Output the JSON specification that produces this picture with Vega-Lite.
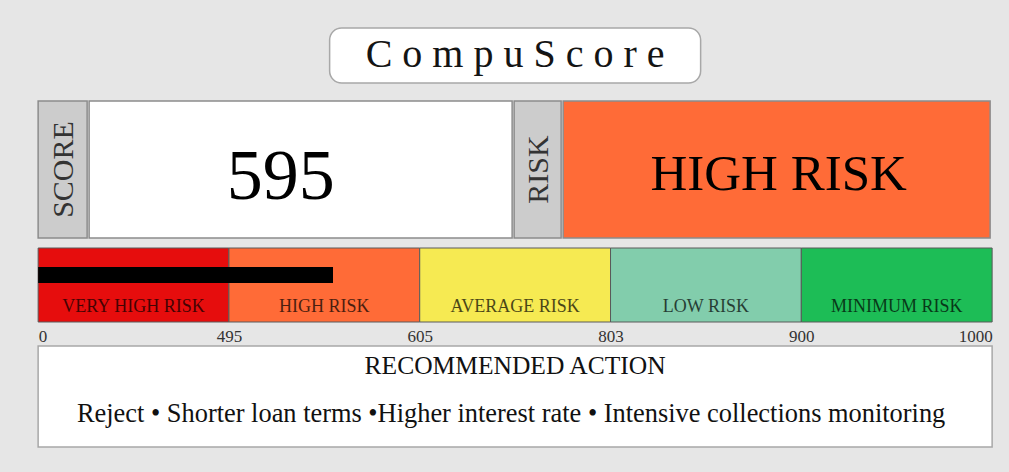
{
  "$schema": "https://vega.github.io/schema/vega-lite/v6.json",
  "background": "#e6e6e6",
  "padding": {"left": 37, "top": 27, "right": 18, "bottom": 24},
  "config": {
    "view": {"stroke": null},
    "font": "Liberation Serif",
    "text": {"font": "Liberation Serif"},
    "axis": {"labelFont": "Liberation Serif"}
  },
  "datasets": {
    "card": [
      {
        "product": "C o m p u S c o r e",
        "score": 595,
        "risk": "HIGH RISK",
        "heading": "RECOMMENDED ACTION",
        "action": "Reject • Shorter loan terms •Higher interest rate • Intensive collections monitoring",
        "marker": 555
      }
    ],
    "bands": [
      {"band": "VERY HIGH RISK", "lo": 0, "hi": 495},
      {"band": "HIGH RISK", "lo": 495, "hi": 605},
      {"band": "AVERAGE RISK", "lo": 605, "hi": 803},
      {"band": "LOW RISK", "lo": 803, "hi": 900},
      {"band": "MINIMUM RISK", "lo": 900, "hi": 1000}
    ]
  },
  "spacing": 16,
  "center": true,
  "vconcat": [
    {
      "width": 371,
      "height": 55,
      "view": {"fill": "#ffffff", "stroke": "#a8a8a8", "strokeWidth": 1.5, "cornerRadius": 12},
      "data": {"name": "card"},
      "mark": {"type": "text", "fontSize": 40, "color": "#141414", "dy": -1},
      "encoding": {"text": {"field": "product", "type": "nominal"}}
    },
    {
      "spacing": 8,
      "vconcat": [
        {
          "spacing": 0,
          "hconcat": [
            {
              "width": 49,
              "height": 137,
              "view": {"fill": "#cccccc", "stroke": "#8c8c8c", "strokeWidth": 1.5},
              "data": {"name": "card"},
              "mark": {"type": "text", "angle": 270, "fontSize": 30, "color": "#333333", "dy": 1},
              "encoding": {"text": {"value": "SCORE"}}
            },
            {
              "width": 423,
              "height": 137,
              "view": {"fill": "#ffffff", "stroke": "#8c8c8c", "strokeWidth": 1.5},
              "data": {"name": "card"},
              "mark": {"type": "text", "fontSize": 72, "color": "#000000", "dx": -20, "dy": 7},
              "encoding": {"text": {"field": "score", "type": "quantitative", "format": "d"}}
            },
            {
              "width": 47,
              "height": 137,
              "view": {"fill": "#cccccc", "stroke": "#8c8c8c", "strokeWidth": 1.5},
              "data": {"name": "card"},
              "mark": {"type": "text", "angle": 270, "fontSize": 30, "color": "#333333", "dy": 1},
              "encoding": {"text": {"value": "RISK"}}
            },
            {
              "width": 427,
              "height": 137,
              "view": {"fill": "#ff6b37", "stroke": "#8c8c8c", "strokeWidth": 1.5},
              "data": {"name": "card"},
              "mark": {"type": "text", "fontSize": 51, "color": "#000000", "dx": 2, "dy": 5},
              "encoding": {"text": {"field": "risk", "type": "nominal"}}
            }
          ]
        },
        {
          "spacing": 1,
          "vconcat": [
            {
              "width": 954,
              "height": 74,
              "resolve": {"scale": {"x": "independent"}},
              "layer": [
                {
                  "data": {"name": "bands"},
                  "mark": {"type": "rect", "stroke": "#5a5a5a", "strokeWidth": 1},
                  "encoding": {
                    "x": {
                      "field": "lo",
                      "type": "quantitative",
                      "scale": {"type": "linear", "domain": [0, 495, 605, 803, 900, 1000], "range": [0, 190.8, 381.6, 572.4, 763.2, 954], "zero": false, "nice": false},
                      "axis": {"values": [0, 495, 605, 803, 900, 1000], "format": "d", "labelFlush": true, "labelOverlap": false, "ticks": false, "domain": false, "grid": false, "title": null, "labelFontSize": 17, "labelColor": "#333333", "labelPadding": 6}
                    },
                    "x2": {"field": "hi"},
                    "color": {
                      "field": "band",
                      "type": "nominal",
                      "scale": {
                        "domain": ["VERY HIGH RISK", "HIGH RISK", "AVERAGE RISK", "LOW RISK", "MINIMUM RISK"],
                        "range": ["#e60d0d", "#ff6b37", "#f6ea52", "#82cdac", "#1dbd56"]
                      },
                      "legend": null
                    }
                  }
                },
                {
                  "data": {"name": "card"},
                  "mark": {"type": "bar", "color": "#000000", "height": 16, "yOffset": -10},
                  "encoding": {
                    "x": {
                      "field": "marker",
                      "type": "quantitative",
                      "scale": {"type": "linear", "domain": [0, 495, 605, 803, 900, 1000], "range": [0, 190.8, 381.6, 572.4, 763.2, 954], "zero": false, "nice": false},
                      "axis": null
                    }
                  }
                },
                {
                  "data": {"name": "bands"},
                  "mark": {"type": "text", "fontSize": 18, "color": "#000000", "opacity": 0.7, "baseline": "alphabetic", "dy": 27},
                  "encoding": {
                    "x": {"field": "band", "type": "nominal", "sort": null, "scale": {"type": "point", "padding": 0.5}, "axis": null},
                    "text": {"field": "band", "type": "nominal"}
                  }
                }
              ]
            },
            {
              "width": 954,
              "height": 101,
              "view": {"fill": "#ffffff", "stroke": "#a8a8a8", "strokeWidth": 1.5},
              "data": {"name": "card"},
              "layer": [
                {
                  "mark": {"type": "text", "fontSize": 25.5, "color": "#111111", "baseline": "alphabetic", "dy": -22.5},
                  "encoding": {"text": {"field": "heading", "type": "nominal"}}
                },
                {
                  "mark": {"type": "text", "fontSize": 26.4, "color": "#111111", "baseline": "alphabetic", "dx": -4, "dy": 25},
                  "encoding": {"text": {"field": "action", "type": "nominal"}}
                }
              ]
            }
          ]
        }
      ]
    }
  ]
}
